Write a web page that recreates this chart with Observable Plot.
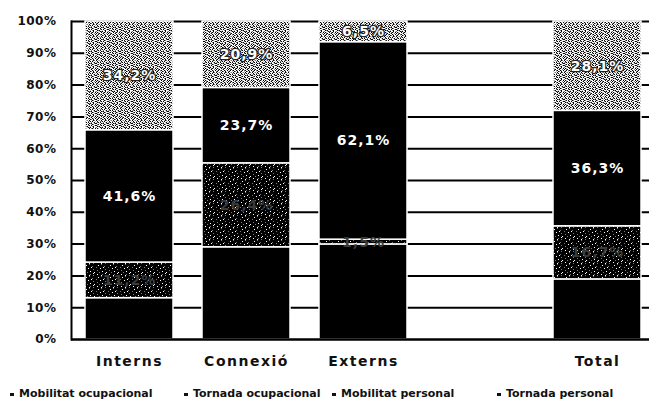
<!DOCTYPE html>
<html>
<head>
<meta charset="utf-8">
<script src="https://cdn.jsdelivr.net/npm/d3@7"></script>
<script src="https://cdn.jsdelivr.net/npm/@observablehq/plot@0.6"></script>
<style>
  body { margin: 0; background: #fff; }
  #chart { position: relative; width: 649px; height: 401px; overflow: hidden; background: #fff; }
  #chart svg { display: block; }
  .legend { position: absolute; left: 0; top: 387px; width: 649px; height: 14px;
            font: bold 11px "DejaVu Sans", sans-serif; color: #111; }
  .legend span { position: absolute; top: 0; white-space: nowrap; }
  .legend i { display: inline-block; width: 4px; height: 3px; background: #111;
              margin-right: 5px; vertical-align: middle; }
</style>
</head>
<body>
<div id="chart"></div>
<script>
// Categories (the blank slot keeps the gap before "Total")
const categories = ["Interns", "Connexió", "Externs", "Total"];
const slots = ["Interns", "Connexió", "Externs", " ", "Total"];

// Series, stacked bottom to top
const series = ["Mobilitat ocupacional", "Tornada ocupacional", "Mobilitat personal", "Tornada personal"];

// Percentages per category (Interns, Connexió, Externs, Total)
const mobilitatOcupacional = [13.0, 29.0, 29.9, 18.9];
const tornadaOcupacional   = [11.2, 26.4, 1.5, 16.7];
const mobilitatPersonal    = [41.6, 23.7, 62.1, 36.3];
const tornadaPersonal      = [34.2, 20.9, 6.5, 28.1];

// Y axis tick values
const yTicks = [0, 10, 20, 30, 40, 50, 60, 70, 80, 90, 100];

const valuesBySeries = [mobilitatOcupacional, tornadaOcupacional, mobilitatPersonal, tornadaPersonal];
const rows = [];
categories.forEach((category, i) => {
  series.forEach((s, j) => rows.push({category, series: s, value: valuesBySeries[j][i]}));
});

const pct = v => v.toFixed(1).replace(".", ",") + "%";
const fills = ["#000", "url(#ditherDark)", "#000", "url(#ditherLight)"];
const labelFor = name => d => d.series === name ? pct(d.value) : "";

const stacked = extra => Plot.stackY({x: "category", y: "value", z: "series", ...extra});

const svg = Plot.plot({
  width: 649,
  height: 386,
  marginTop: 21,
  marginBottom: 47,
  marginLeft: 71,
  marginRight: -7,
  style: {fontFamily: "'DejaVu Sans', sans-serif", color: "#111", background: "#fff"},
  x: {domain: slots, paddingInner: 0.245, paddingOuter: 0.12},
  y: {domain: [0, 100]},
  color: {type: "ordinal", domain: series, range: fills},
  marks: [
    Plot.ruleY(yTicks.filter(t => t > 0), {stroke: "#000", strokeWidth: 2}),
    Plot.barY(rows, Plot.stackY({x: "category", y: "value", fill: "series", stroke: "#fff", strokeWidth: 1.5})),
    Plot.text(rows, stacked({text: labelFor(series[1]), fill: "#3a3a3a", fontSize: 14, fontWeight: "bold"})),
    Plot.text(rows, stacked({text: labelFor(series[2]), fill: "#fff", fontSize: 14, fontWeight: "bold"})),
    Plot.text(rows, stacked({text: labelFor(series[3]), fill: "#fff", stroke: "#222", strokeWidth: 2.5,
                             paintOrder: "stroke", fontSize: 14, fontWeight: "bold"})),
    Plot.frame({anchor: "left", stroke: "#000", strokeWidth: 2}),
    Plot.ruleY([0], {stroke: "#000", strokeWidth: 2.5}),
    Plot.axisY(yTicks, {tickSize: 0, tickPadding: 15, tickFormat: d => d + "%", label: null,
                        fontSize: 12, fontWeight: "bold"}),
    Plot.axisX(categories, {tickSize: 0, tickPadding: 17, label: null, fontSize: 14, fontWeight: "bold"})
  ]
});

// Dithered fills for the "Tornada" segments
const patterns = {
  ditherLight: [
    "#.:+.#..:#+.",
    ".#..+:#.#..:",
    ":+#.#..+.:#.",
    "#..:.#+#..+#",
    ".+#.#..:#+..",
    "#:..+#.#..:#",
    ".#+#..:.+#..",
    "+..:#+#..#.:",
    ".#:..#.+#:.#",
    "#.+#..:#..+.",
    ".:#.+#..#:.#",
    "+#..:.#+.#.."
  ],
  ditherDark: [
    "#####+######",
    "##.#########",
    "########+###",
    "+######.####",
    "####.#######",
    "#########+##",
    "#+##########",
    "######.#####",
    "###+######.#",
    "#########.##",
    "#.####+#####",
    "#####.###+##"
  ]
};
const pixelColor = {"#": "#000", ".": "#fff", "+": "#777", ":": "#bbb"};
const defs = d3.select(svg).insert("defs", ":first-child");
for (const [id, grid] of Object.entries(patterns)) {
  const p = defs.append("pattern").attr("id", id).attr("patternUnits", "userSpaceOnUse")
    .attr("width", grid[0].length).attr("height", grid.length);
  grid.forEach((row, r) => [...row].forEach((ch, c) => {
    p.append("rect").attr("x", c).attr("y", r).attr("width", 1).attr("height", 1)
      .attr("fill", pixelColor[ch]).attr("shape-rendering", "crispEdges");
  }));
}
d3.select(svg).selectAll('g[aria-label="x-axis tick label"] text').style("letter-spacing", "1.5px");
d3.select(svg).selectAll('g[aria-label="y-axis tick label"] text').style("letter-spacing", "0.5px");
d3.select(svg).selectAll('g[aria-label="text"] text').style("letter-spacing", "1px");

const chart = document.getElementById("chart");
chart.append(svg);

// Legend row below the plot
const legend = document.createElement("div");
legend.className = "legend";
const legendLeft = [10, 184, 332, 497];
series.forEach((s, i) => {
  const item = document.createElement("span");
  item.style.left = legendLeft[i] + "px";
  item.innerHTML = "<i></i>" + s;
  legend.append(item);
});
chart.append(legend);
</script>
</body>
</html>
